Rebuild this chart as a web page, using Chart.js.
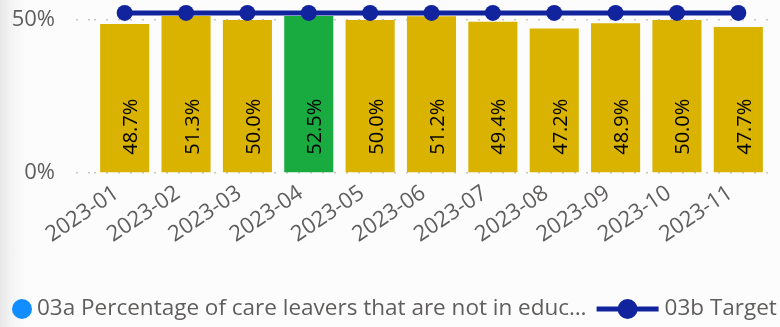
<!DOCTYPE html>
<html>
<head>
<meta charset="utf-8">
<script src="https://cdn.jsdelivr.net/npm/chart.js@4.4.1/dist/chart.umd.min.js"></script>
<style>
  html, body { margin: 0; padding: 0; overflow: hidden; }
  body {
    width: 780px; height: 327px;
    background: linear-gradient(to right, #e7e7e8 0px, #f3f3f4 10px, #fcfcfd 26px);
  }
  #wrap { position: relative; width: 780px; height: 327px; }
</style>
</head>
<body>
<div id="wrap"><canvas id="neetChart"></canvas></div>
<script>
const months = ['2023-01', '2023-02', '2023-03', '2023-04', '2023-05', '2023-06',
                '2023-07', '2023-08', '2023-09', '2023-10', '2023-11'];
const neetPct = [48.7, 51.3, 50.0, 52.5, 50.0, 51.2, 49.4, 47.2, 48.9, 50.0, 47.7];
const targetPct = [52.3, 52.3, 52.3, 52.3, 52.3, 52.3, 52.3, 52.3, 52.3, 52.3, 52.3];
const yTicks = [0, 50];
const seriesNames = ['03a Percentage of care leavers that are not in educ\u2026', '03b Target'];

const FONT = "'Segoe UI', 'Open Sans', sans-serif";
const TEXT_GREY = '#605E5C';
const GRID_GREY = '#c8c6c4';

// months at or above target go green, the rest yellow
const barColours = neetPct.map((v, i) => v >= targetPct[i] ? '#1AAB40' : '#D9B300');

// value labels written up the inside of each bar, from the base
const barValueLabels = {
    id: 'barValueLabels',
    afterDatasetsDraw(chart) {
        const meta = chart.getDatasetMeta(1);
        const ctx = chart.ctx;
        ctx.save();
        ctx.font = '20px ' + FONT;
        ctx.fillStyle = '#000';
        ctx.textAlign = 'left';
        ctx.textBaseline = 'alphabetic';
        meta.data.forEach((bar, i) => {
            ctx.save();
            ctx.translate(bar.x + 12.5, bar.base - 17.5);
            ctx.rotate(-Math.PI / 2);
            ctx.fillText(neetPct[i].toFixed(1) + '%', 0, 0);
            ctx.restore();
        });
        ctx.restore();
    }
};

// legend row under the axis labels
const bottomLegend = {
    id: 'bottomLegend',
    afterDraw(chart) {
        const ctx = chart.ctx;
        const y = 309;
        const sets = chart.data.datasets;
        ctx.save();
        ctx.font = '22.5px ' + FONT;
        ctx.textBaseline = 'middle';
        ctx.textAlign = 'left';

        let x = 12;
        ctx.fillStyle = '#118DFF';
        ctx.beginPath();
        ctx.arc(x + 10, y, 10, 0, Math.PI * 2);
        ctx.fill();
        x += 25;
        ctx.fillStyle = TEXT_GREY;
        ctx.fillText(sets[1].label, x, y);
        x += ctx.measureText(sets[1].label).width + 10;

        ctx.strokeStyle = sets[0].borderColor;
        ctx.lineWidth = 5;
        ctx.beginPath();
        ctx.moveTo(x, y);
        ctx.lineTo(x + 62, y);
        ctx.stroke();
        ctx.fillStyle = sets[0].borderColor;
        ctx.beginPath();
        ctx.arc(x + 31, y, 10, 0, Math.PI * 2);
        ctx.fill();
        x += 68;
        ctx.fillStyle = TEXT_GREY;
        ctx.fillText(sets[0].label, x, y);
        ctx.restore();
    }
};

const ctx = document.getElementById('neetChart').getContext('2d');
window.neetChart = new Chart(ctx, {
    data: {
        labels: months,
        datasets: [
            {
                type: 'line',
                label: seriesNames[1],
                data: targetPct,
                borderColor: '#12239E',
                backgroundColor: '#12239E',
                borderWidth: 5,
                pointRadius: 8,
                pointHoverRadius: 8,
                pointBorderWidth: 0,
                clip: false,
                order: 0
            },
            {
                type: 'bar',
                label: seriesNames[0],
                data: neetPct,
                backgroundColor: barColours,
                barPercentage: 1,
                categoryPercentage: 0.8,
                clip: 0,
                order: 1
            }
        ]
    },
    options: {
        responsive: true,
        maintainAspectRatio: false,
        animation: false,
        layout: { padding: { left: 0, right: 11, top: 16, bottom: 44 } },
        plugins: {
            legend: { display: false },
            tooltip: { enabled: false }
        },
        scales: {
            x: {
                offset: true,
                grid: { display: false, drawTicks: false },
                border: { display: false },
                ticks: {
                    autoSkip: false,
                    minRotation: 34,
                    maxRotation: 34,
                    padding: 7,
                    labelOffset: -8,
                    color: TEXT_GREY,
                    font: { family: FONT, size: 22 }
                },
                afterFit: scale => {
                    scale.height = 110;
                    scale.paddingLeft = 0;
                    scale.paddingRight = 0;
                }
            },
            y: {
                min: 0,
                max: 51.3,
                afterBuildTicks: scale => { scale.ticks = yTicks.map(v => ({ value: v })); },
                afterFit: scale => {
                    scale.width = 94;
                    scale.paddingTop = 0;
                    scale.paddingBottom = 0;
                },
                border: { display: false, dash: [2, 10] },
                grid: {
                    color: GRID_GREY,
                    lineWidth: 1.5,
                    tickLength: 18,
                    tickColor: GRID_GREY,
                    tickWidth: 1.5,
                    tickBorderDash: [2, 10]
                },
                ticks: {
                    padding: 21,
                    color: TEXT_GREY,
                    font: { family: FONT, size: 22 },
                    callback: v => v + '%'
                }
            }
        }
    },
    plugins: [barValueLabels, bottomLegend]
});
</script>
</body>
</html>
